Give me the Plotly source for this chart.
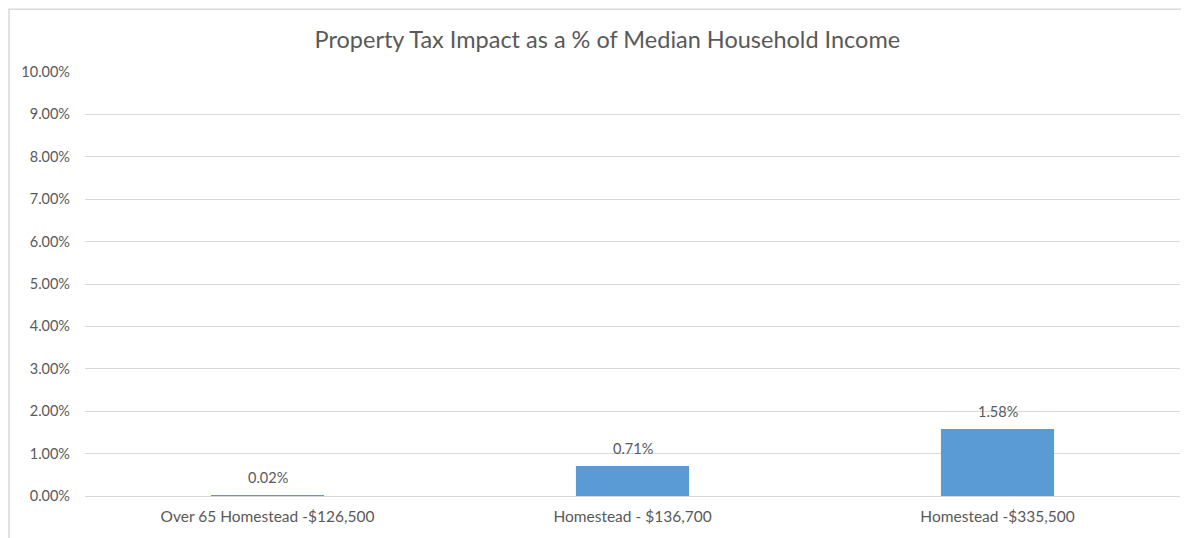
import plotly.graph_objects as go

# data
categories = ['Over 65 Homestead -$126,500', 'Homestead - $136,700', 'Homestead -$335,500']
impact_pct = [0.0002, 0.0071, 0.0158]
y_ticks = [i / 100 for i in range(0, 11)]

bar_color = '#5B9BD5'
text_color = '#595959'
grid_color = '#D9D9D9'
font_family = 'Lato, Open Sans, sans-serif'

fig = go.Figure()
fig.add_trace(go.Bar(
    x=categories,
    y=impact_pct,
    width=0.31,
    marker=dict(color=bar_color, line=dict(width=0)),
    showlegend=False,
))

# data labels sit a bit higher than plotly's 'outside' text
for cat, val in zip(categories, impact_pct):
    fig.add_annotation(x=cat, y=val, text=f'{val:.2%}', showarrow=False,
                       yanchor='bottom', yshift=7,
                       font=dict(family=font_family, size=14.5, color=text_color))

# light frame around the chart area (like the excel chart border)
fig.add_shape(type='rect', xref='paper', yref='paper',
              x0=-0.0694, x1=1.2, y0=-0.3, y1=1.148,
              line=dict(color=grid_color, width=1.5), layer='below')

fig.update_layout(
    width=1181,
    height=530,
    margin=dict(l=77, r=9, t=64, b=42),
    paper_bgcolor='white',
    plot_bgcolor='white',
    title=dict(
        text='Property Tax Impact as a % of Median Household Income',
        x=0.5075, xanchor='center',
        y=0.94, yanchor='middle',
        font=dict(family=font_family, size=23.5, color=text_color),
    ),
    xaxis=dict(
        showgrid=False,
        showline=False,
        ticks='',
        ticklabelstandoff=9,
        tickfont=dict(family=font_family, size=15.5, color=text_color),
    ),
    yaxis=dict(
        range=[0, 0.1],
        tickvals=y_ticks,
        tickformat='.2%',
        showgrid=True,
        gridcolor=grid_color,
        gridwidth=1,
        zeroline=True,
        zerolinecolor=grid_color,
        zerolinewidth=1,
        showline=False,
        ticks='',
        ticklabelstandoff=14,
        tickfont=dict(family=font_family, size=14.5, color=text_color),
    ),
    bargap=0.69,
)

fig.write_html('out.html')
